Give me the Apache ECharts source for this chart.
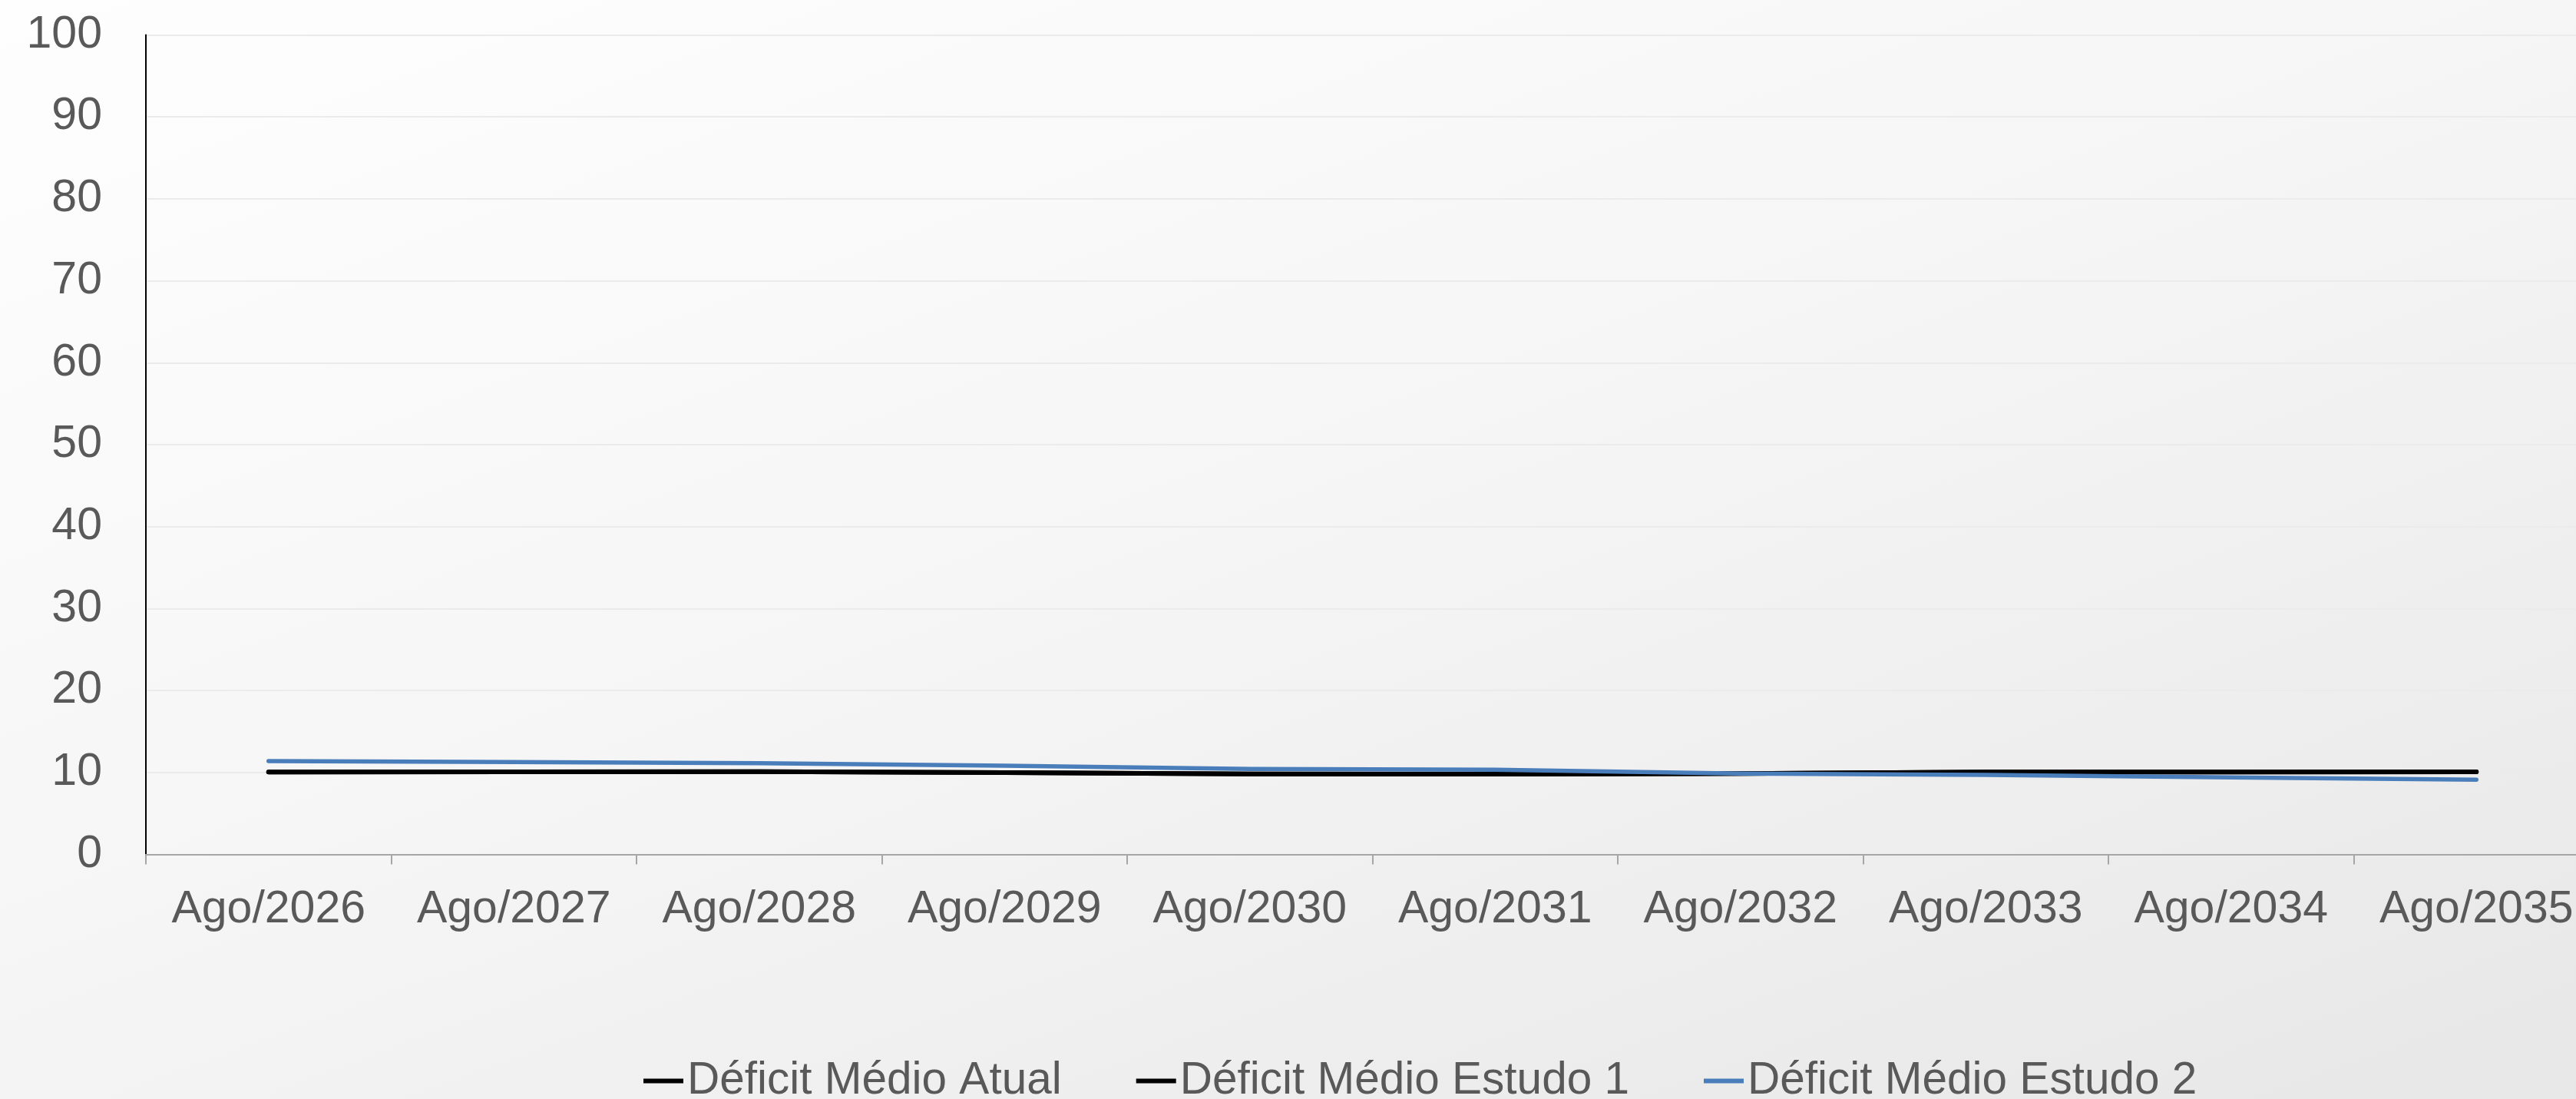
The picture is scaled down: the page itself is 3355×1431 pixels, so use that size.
<!DOCTYPE html>
<html>
<head>
<meta charset="utf-8">
<script src="https://cdn.jsdelivr.net/npm/echarts@6/dist/echarts.min.js"></script>
<style>
  html, body { margin: 0; padding: 0; overflow: hidden; }
  body {
    width: 3355px;
    height: 1431px;
    background: linear-gradient(160deg, #fefefe 0%, #f6f6f6 45%, #e7e7e8 100%);
  }
  /* plot area runs slightly past the right edge of the page */
  #chart { width: 3385px; height: 1431px; }
</style>
</head>
<body>
<div id="chart"></div>
<script>
// Categories (months of August, 2026–2035)
const categories = ['Ago/2026', 'Ago/2027', 'Ago/2028', 'Ago/2029', 'Ago/2030',
                    'Ago/2031', 'Ago/2032', 'Ago/2033', 'Ago/2034', 'Ago/2035'];

// Average deficit per scenario
const deficitAtual   = [10.05, 10.07, 10.10, 9.98, 9.82, 9.80, 9.86, 10.05, 10.05, 10.08];
const deficitEstudo1 = [10.05, 10.07, 10.10, 9.98, 9.82, 9.80, 9.86, 10.05, 10.05, 10.08];
const deficitEstudo2 = [11.39, 11.27, 11.14, 10.83, 10.42, 10.33, 9.86, 9.70, 9.39, 9.11];

const seriesNames = ['Déficit Médio Atual', 'Déficit Médio Estudo 1', 'Déficit Médio Estudo 2'];

const textColor = '#595959';
const fontFamily = '"Liberation Sans", Arial, sans-serif';

const chart = echarts.init(document.getElementById('chart'), null, { renderer: 'canvas' });

function lineSeries(name, data, color, width) {
  return {
    name: name,
    type: 'line',
    data: data,
    showSymbol: false,
    symbol: 'none',
    color: color,
    lineStyle: { color: color, width: width, cap: 'round', join: 'round' },
    emphasis: { disabled: true },
    animation: false
  };
}

chart.setOption({
  backgroundColor: 'transparent',
  animation: false,
  grid: {
    left: 190,
    right: 0,
    top: 45.5,
    bottom: 318.5,
    containLabel: false
  },
  legend: {
    data: seriesNames,
    left: 833,
    top: 1373,
    icon: 'rect',
    itemWidth: 52,
    itemHeight: 6,
    itemGap: 97,
    textStyle: { color: textColor, fontSize: 58.5, fontFamily: fontFamily }
  },
  xAxis: {
    type: 'category',
    data: categories,
    boundaryGap: true,
    axisLine: { show: true, lineStyle: { color: '#a6a6a6', width: 2 } },
    axisTick: { show: true, length: 13, lineStyle: { color: '#a6a6a6', width: 2 } },
    axisLabel: { color: textColor, fontSize: 59, fontFamily: fontFamily, margin: 43, interval: 0 },
    splitLine: { show: false }
  },
  yAxis: {
    type: 'value',
    min: 0,
    max: 100,
    interval: 10,
    axisLine: { show: true, lineStyle: { color: '#000000', width: 2 } },
    axisTick: { show: false },
    axisLabel: { color: textColor, fontSize: 59, fontFamily: fontFamily, margin: 57 },
    splitLine: { show: true, lineStyle: { color: '#ebebeb', width: 2 } }
  },
  series: [
    lineSeries(seriesNames[0], deficitAtual, '#000000', 6),
    lineSeries(seriesNames[1], deficitEstudo1, '#000000', 6),
    lineSeries(seriesNames[2], deficitEstudo2, '#4a7ebb', 5.5)
  ]
});
</script>
</body>
</html>
